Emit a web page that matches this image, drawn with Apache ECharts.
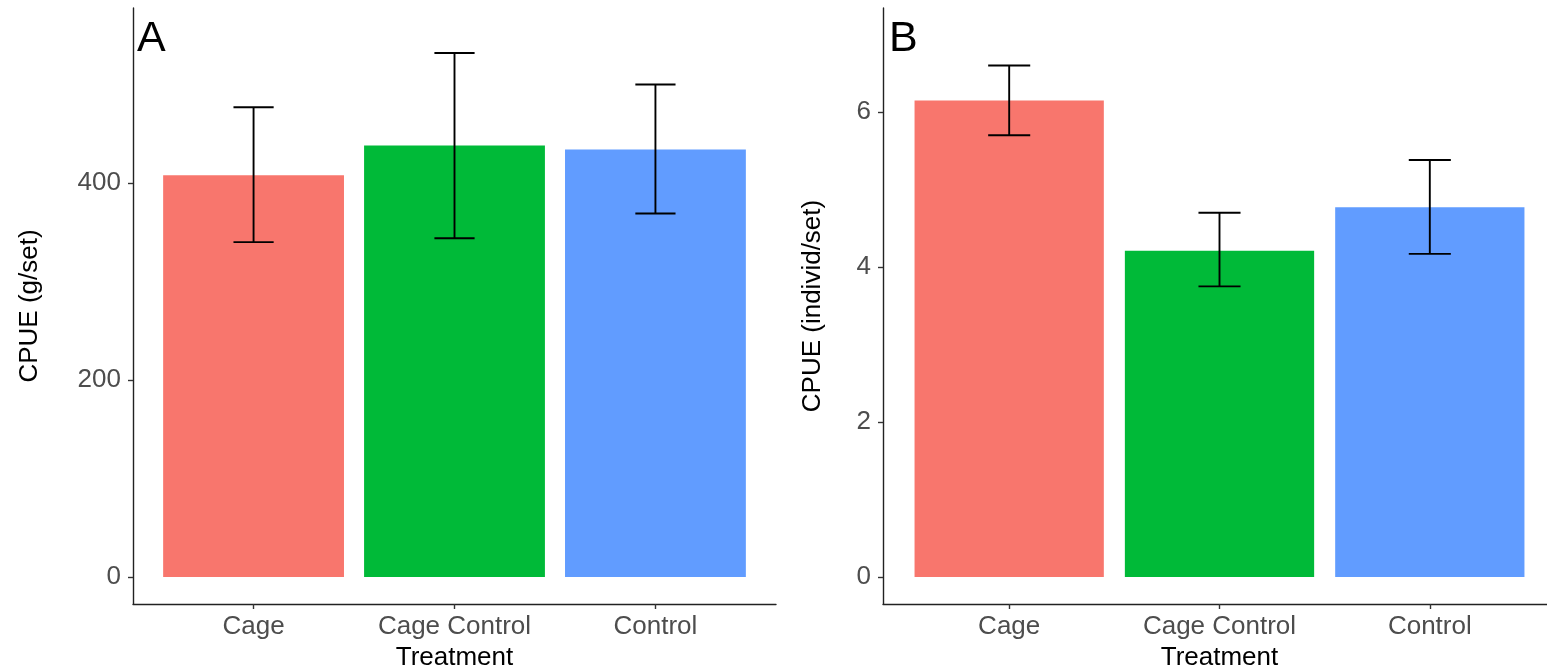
<!DOCTYPE html>
<html>
<head>
<meta charset="utf-8">
<script src="https://cdn.jsdelivr.net/npm/echarts@6/dist/echarts.min.js"></script>
<style>
html,body{margin:0;padding:0;background:#fff;}
#chart{width:1547px;height:669px;}
</style>
</head>
<body>
<div id="chart"></div>
<script>
// ---- data ----
const categories = ['Cage', 'Cage Control', 'Control'];
const barColors = ['#F8766D', '#00BA38', '#619CFF'];
// Panel A: CPUE (g/set)
const massMean = [408, 438, 434];
const massLow  = [340, 344, 369];
const massHigh = [477, 532, 500];
const massTicks = [0, 200, 400];
// Panel B: CPUE (individ/set)
const countMean = [6.15, 4.21, 4.77];
const countLow  = [5.70, 3.75, 4.17];
const countHigh = [6.60, 4.70, 5.38];
const countTicks = [0, 2, 4, 6];
const catPositions = [1, 2, 3];

const FONT = '"Liberation Sans", Arial, sans-serif';

function barItem(params, api) {
  const x = api.value(0), v = api.value(1);
  const p0 = api.coord([x - 0.45, v]);
  const p1 = api.coord([x + 0.45, 0]);
  return {
    type: 'rect',
    shape: { x: p0[0], y: p0[1], width: p1[0] - p0[0], height: p1[1] - p0[1] },
    style: { fill: barColors[params.dataIndex] }
  };
}
function errItem(params, api) {
  const x = api.value(0), lo = api.value(1), hi = api.value(2);
  const top = api.coord([x, hi]), bot = api.coord([x, lo]);
  const l = api.coord([x - 0.1, hi])[0], r = api.coord([x + 0.1, hi])[0];
  const st = { stroke: '#000', lineWidth: 1.9 };
  return {
    type: 'group',
    children: [
      { type: 'line', shape: { x1: top[0], y1: top[1], x2: bot[0], y2: bot[1] }, style: st },
      { type: 'line', shape: { x1: l, y1: top[1], x2: r, y2: top[1] }, style: st },
      { type: 'line', shape: { x1: l, y1: bot[1], x2: r, y2: bot[1] }, style: st }
    ]
  };
}

function xAxisDef(gridIndex) {
  return {
    type: 'value', gridIndex, min: 0.4, max: 3.6,
    name: 'Treatment', nameLocation: 'middle', nameGap: 40,
    nameTextStyle: { color: '#000', fontSize: 26, fontFamily: FONT },
    axisLine: { show: true, onZero: false, lineStyle: { color: '#222', width: 1.4 } },
    axisTick: { show: true, customValues: catPositions, length: 5, lineStyle: { color: '#333', width: 1.4 } },
    axisLabel: {
      customValues: catPositions, margin: 10, color: '#4D4D4D', fontSize: 26, fontFamily: FONT,
      formatter: v => categories[Math.round(v) - 1] || ''
    },
    splitLine: { show: false }
  };
}
function yAxisDef(gridIndex, min, max, ticks, name, gap) {
  return {
    type: 'value', gridIndex, min, max,
    name, nameLocation: 'middle', nameGap: gap, nameRotate: 90,
    nameTextStyle: { color: '#000', fontSize: 26, fontFamily: FONT },
    axisLine: { show: true, onZero: false, lineStyle: { color: '#222', width: 1.4 } },
    axisTick: { show: true, customValues: ticks, length: 5, lineStyle: { color: '#333', width: 1.4 } },
    axisLabel: { customValues: ticks, margin: 12, color: '#4D4D4D', fontSize: 26, fontFamily: FONT },
    splitLine: { show: false }
  };
}

const chart = echarts.init(document.getElementById('chart'), null, { renderer: 'canvas' });
chart.setOption({
  animation: false,
  backgroundColor: '#fff',
  title: [
    { text: 'A', left: 137, top: 18, padding: 0, textStyle: { fontSize: 43, fontWeight: 'normal', color: '#000', fontFamily: FONT } },
    { text: 'B', left: 889, top: 18, padding: 0, textStyle: { fontSize: 43, fontWeight: 'normal', color: '#000', fontFamily: FONT } }
  ],
  grid: [
    { left: 133, top: 8, width: 643, height: 596, containLabel: false, outerBoundsMode: 'none' },
    { left: 883, top: 8, width: 673, height: 596, containLabel: false, outerBoundsMode: 'none' }
  ],
  xAxis: [xAxisDef(0), xAxisDef(1)],
  yAxis: [
    yAxisDef(0, -27.4, 577.7, massTicks, 'CPUE (g/set)', 90),
    yAxisDef(1, -0.348, 7.342, countTicks, 'CPUE (individ/set)', 57)
  ],
  series: [
    { type: 'custom', xAxisIndex: 0, yAxisIndex: 0, renderItem: barItem,
      data: categories.map((c, i) => [catPositions[i], massMean[i]]), z: 2 },
    { type: 'custom', xAxisIndex: 0, yAxisIndex: 0, renderItem: errItem,
      data: categories.map((c, i) => [catPositions[i], massLow[i], massHigh[i]]), z: 3 },
    { type: 'custom', xAxisIndex: 1, yAxisIndex: 1, renderItem: barItem,
      data: categories.map((c, i) => [catPositions[i], countMean[i]]), z: 2 },
    { type: 'custom', xAxisIndex: 1, yAxisIndex: 1, renderItem: errItem,
      data: categories.map((c, i) => [catPositions[i], countLow[i], countHigh[i]]), z: 3 }
  ]
});
</script>
</body>
</html>
